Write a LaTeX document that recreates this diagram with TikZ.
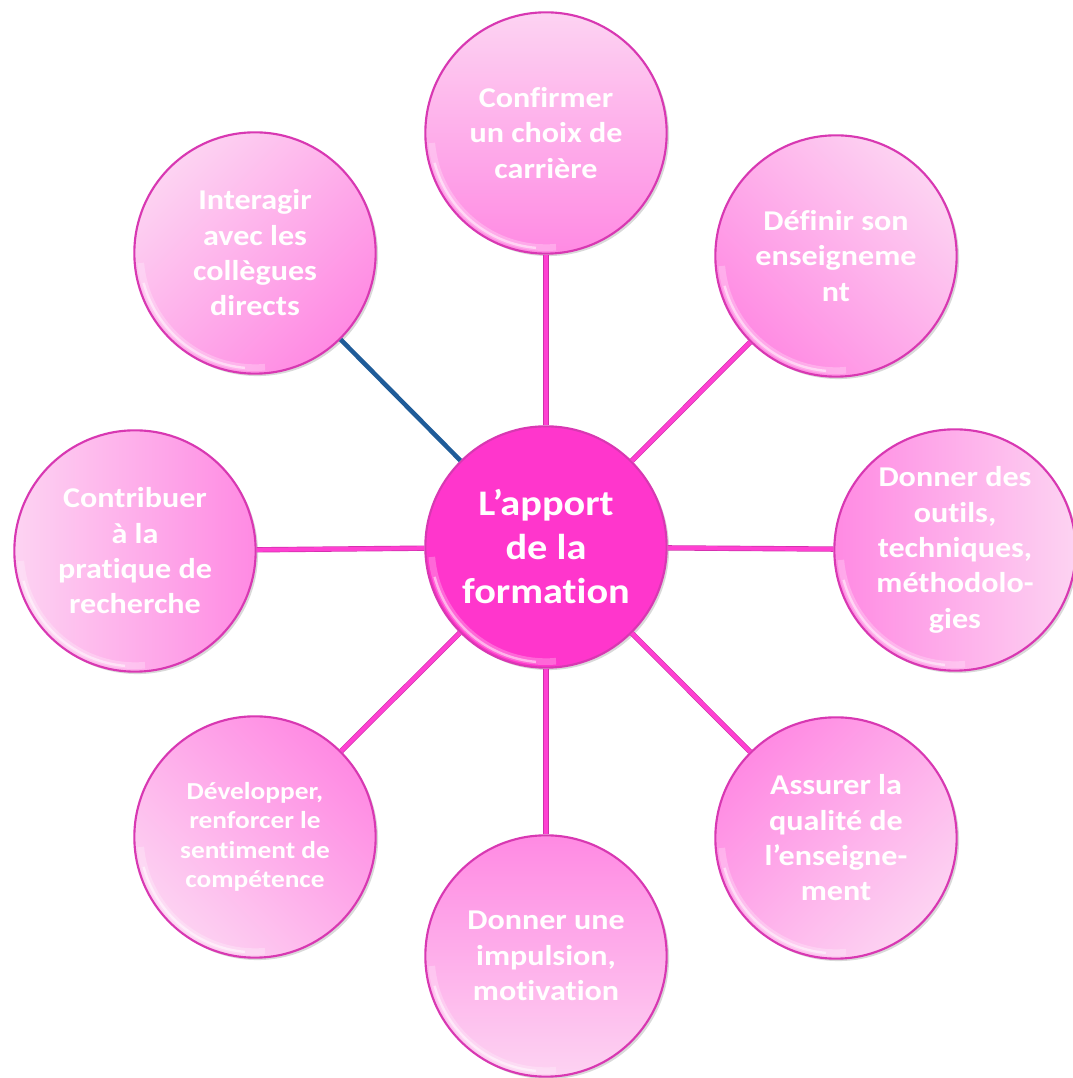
\documentclass[tikz,border=0pt]{standalone}
\usepackage{fontspec}
\setmainfont{Carlito}[FakeStretch=1.12, Ligatures=CommonOff]
\usetikzlibrary{shadows}
\definecolor{ringc}{HTML}{D838B2}
\definecolor{lightp}{HTML}{FDD3F2}
\definecolor{darkp}{HTML}{FF8AE3}
\definecolor{centerp}{HTML}{FF36CC}
\definecolor{linep}{HTML}{FF40D2}
\definecolor{lineo}{HTML}{D02FAA}
\definecolor{lineb}{HTML}{1F5C99}
\tikzset{
  x=0.75pt, y=0.75pt,
  rim/.style={path picture={
      \draw[white, opacity=0.25, line width=5pt]
        ([shift={(185:86pt)}]path picture bounding box.center)
        arc[start angle=185, end angle=275, radius=86pt];
      \draw[white, opacity=0.5, line width=1.8pt]
        ([shift={(195:86.5pt)}]path picture bounding box.center)
        arc[start angle=195, end angle=265, radius=86.5pt];}},
  bubble/.style={circle, draw=ringc, line width=1.6pt, minimum size=181pt,
    inner sep=0pt, text=white, align=center,
    font=\fontsize{21.5}{26.5}\selectfont\bfseries,
    top color=lightp, bottom color=darkp, shading angle=#1,
    drop shadow={shadow xshift=1.8pt, shadow yshift=-1.8pt, opacity=0.3},
    rim},
  hub/.style={circle, draw=ringc, line width=1.6pt, minimum size=181pt,
    inner sep=0pt, text=white, align=center, fill=centerp,
    font=\fontsize{27}{33}\selectfont\bfseries,
    drop shadow={shadow xshift=1.8pt, shadow yshift=-1.8pt, opacity=0.3},
    rim},
  conn/.style={draw=lineo, line width=0.5pt, double=linep, double distance=3pt},
  connb/.style={draw=lineb, line width=3.4pt}
}
\begin{document}
\begin{tikzpicture}
\useasboundingbox (0,0) rectangle (1073,1078);
\node[hub] (c) at (546,531) {L’apport\\de la\\formation};
\node[bubble=0] (t) at (546,945) {Confirmer\\un choix de\\carrière};
\node[bubble=-45] (tr) at (836,822) {Définir son\\enseigneme\\nt};
\node[bubble=-90] (r) at (955,528) {Donner des\\outils,\\techniques,\\méthodolo-\\gies};
\node[bubble=-135] (br) at (836,240) {Assurer la\\qualité de\\l’enseigne-\\ment};
\node[bubble=180] (b) at (546,122) {Donner une\\impulsion,\\motivation};
\node[bubble=135, font=\fontsize{18.3}{22}\selectfont\bfseries] (bl) at (255,241) {Développer,\\renforcer le\\sentiment de\\compétence};
\node[bubble=90] (l) at (135,527) {Contribuer\\à la\\pratique de\\recherche};
\node[bubble=45] (tl) at (255,825) {Interagir\\avec les\\collègues\\directs};
\draw[conn] (c) -- (t);
\draw[conn] (c) -- (tr);
\draw[conn] (c) -- (r);
\draw[conn] (c) -- (br);
\draw[conn] (c) -- (b);
\draw[conn] (c) -- (bl);
\draw[conn] (c) -- (l);
\draw[connb] (c) -- (tl);
\end{tikzpicture}
\end{document}
